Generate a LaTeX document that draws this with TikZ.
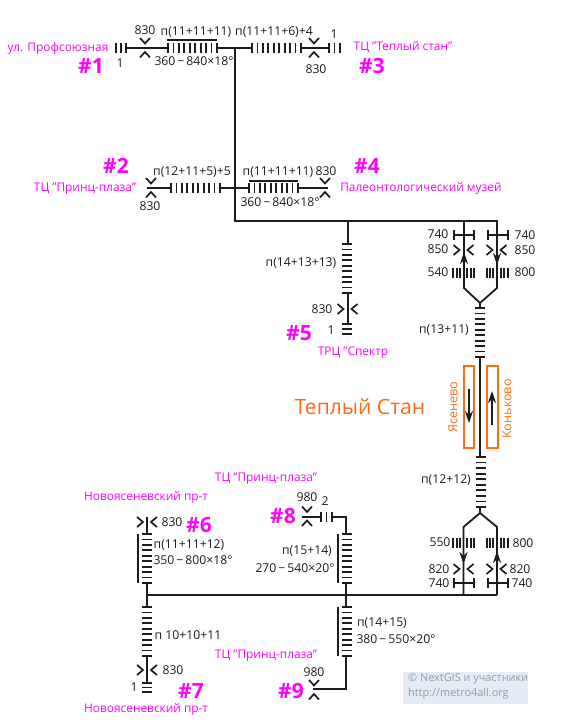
\documentclass[tikz,border=0pt]{standalone}
\usepackage{fontspec}
\setmainfont{Open Sans}
\usetikzlibrary{arrows.meta}
\definecolor{ink}{HTML}{1C1C1C}
\definecolor{mag}{HTML}{FF00FF}
\definecolor{orng}{HTML}{FF6A13}
\definecolor{cpbox}{HTML}{E3ECF7}
\definecolor{cptext}{HTML}{9A9A9A}
\tikzset{
  wire/.style={draw=ink,line width=1.8pt},
  tick/.style={draw=ink,line width=1.7pt},
  chev/.style={draw=ink,line width=1.7pt,miter limit=4},
  lab/.style={text=ink,font=\fontsize{12.2}{14}\selectfont,inner sep=0pt},
  pink/.style={text=mag,font=\fontsize{11.9}{13}\selectfont,inner sep=0pt},
  num/.style={text=mag,font=\fontsize{21}{24}\selectfont\bfseries,inner sep=0pt},
  orlab/.style={text=orng,font=\fontsize{12.6}{14}\selectfont,inner sep=0pt},
  orbox/.style={draw=orng,line width=1.8pt},
  uparr/.style={wire,-{Stealth[length=12pt,width=8pt]}},
}
\newcommand{\hst}[4]{\foreach \i in {0,...,#4}{\draw[tick] ({#1+\i*(#2-#1)/#4},#3-5) -- ++(0,10);}}
\newcommand{\vst}[4]{\foreach \i in {0,...,#4}{\draw[tick] (#3-5,{#1+\i*(#2-#1)/#4}) -- ++(10,0);}}
\newcommand{\chvv}[2]{\draw[chev] (#1-5,#2-10) -- (#1,#2-4.5) -- (#1+5,#2-10);\draw[chev] (#1-5,#2+9.5) -- (#1,#2+4) -- (#1+5,#2+9.5);}
\newcommand{\chhh}[2]{\draw[chev] (#1-10.5,#2-5) -- (#1-4.5,#2) -- (#1-10.5,#2+5);\draw[chev] (#1+9.5,#2-5) -- (#1+3.5,#2) -- (#1+9.5,#2+5);}
\newcommand{\capbar}[3]{\draw[tick] (#1,#3) -- (#2,#3);\draw[tick] (#1,#3-5) -- (#1,#3+5);\draw[tick] (#2,#3-5) -- (#2,#3+5);}
\newcommand{\dsh}{\kern2pt−\kern2pt}
\begin{document}
\begin{tikzpicture}[x=1pt,y=-1pt]
\useasboundingbox (0,0) rectangle (562,724);
% named junctions
\coordinate (p1) at (127,48);
\coordinate (s1a) at (168,48);
\coordinate (s1b) at (217,48);
\coordinate (t0) at (235,48);
\coordinate (s3a) at (252,48);
\coordinate (s3b) at (301,48);
\coordinate (p3) at (328,48);
\coordinate (p2) at (147,188);
\coordinate (s2a) at (171,188);
\coordinate (s2b) at (220,188);
\coordinate (s4a) at (249,188);
\coordinate (s4b) at (298,188);
\coordinate (p4) at (328,188);
\coordinate (t1) at (235,221);
\coordinate (t2) at (348,221);
\coordinate (t3) at (464,221);
\coordinate (t4) at (497,221);
\coordinate (s5a) at (348,244);
\coordinate (s5b) at (348,293);
\coordinate (p5) at (348,323);
\coordinate (k1) at (464,288);
\coordinate (k2) at (497,288);
\coordinate (k3) at (480,303);
\coordinate (m1) at (480,308);
\coordinate (m2) at (480,357);
\coordinate (m3) at (480,457);
\coordinate (m4) at (480,507);
\coordinate (r0) at (480,513);
\coordinate (r1) at (463.5,527);
\coordinate (r2) at (497,527);
\coordinate (b1) at (463.5,595);
\coordinate (b2) at (497,595);
\coordinate (b0) at (147,595);
\coordinate (s6a) at (147,534);
\coordinate (s6b) at (147,583);
\coordinate (s7a) at (147,607);
\coordinate (s7b) at (147,656);
\coordinate (p6) at (147,517);
\coordinate (p7) at (147,682);
\coordinate (p8) at (302,517);
\coordinate (e8) at (321,517);
\coordinate (f8) at (332,517);
\coordinate (g8) at (346,517);
\coordinate (s8a) at (346,534);
\coordinate (s8b) at (346,583);
\coordinate (s9a) at (346,607);
\coordinate (s9b) at (346,656);
\coordinate (g9) at (346,689);
\coordinate (p9) at (313,689);
% connectors
\draw[wire] (p1) -- (s1a);
\draw[wire] (s1b) -- (s3a);
\draw[wire] (s3b) -- (p3);
\draw[wire] (t0) -- (t1) -- (t4) -- (k2) -- (k3) -- (k1) -- (t3);
\draw[wire] (p2) -- (s2a);
\draw[wire] (s2b) -- (s4a);
\draw[wire] (s4b) -- (p4);
\draw[wire] (t2) -- (s5a);
\draw[wire] (s5b) -- (p5);
\draw[wire] (k3) -- (m1);
\draw[wire] (m2) -- (m3);
\draw[wire] (m4) -- (r0);
\draw[wire] (r0) -- (r1) -- (b1);
\draw[wire] (r0) -- (r2) -- (b2);
\draw[wire] (b0) -- (b2);
\draw[wire] (p6) -- (s6a);
\draw[wire] (s6b) -- (s7a);
\draw[wire] (s7b) -- (p7);
\draw[wire] (p8) -- (e8);
\draw[wire] (f8) -- (g8) -- (s8a);
\draw[wire] (s8b) -- (s9a);
\draw[wire] (s9b) -- (g9) -- (p9);
% stairs
\hst{116}{126}{48}{2}
\hst{168}{217}{48}{9}
\draw[tick] (167,40) -- (217,40);
\hst{252}{301}{48}{9}
\hst{329}{340}{48}{2}
\hst{171}{220}{188}{9}
\hst{249}{298}{188}{9}
\draw[tick] (249,181) -- (298,181);
\vst{244}{293}{347}{9}
\vst{324}{334}{347}{2}
\vst{308}{357}{480}{9}
\vst{457}{507}{480.5}{9}
\vst{534}{583}{147}{9}
\draw[tick] (138,534) -- (138,583);
\vst{607}{656}{147}{9}
\vst{683}{692}{147}{2}
\hst{321}{332}{517}{2}
\vst{534}{583}{346.5}{9}
\draw[tick] (338,534) -- (338,583);
\vst{607}{656}{346.5}{9}
\draw[tick] (338,607) -- (338,656);
% side ticks near the junction
\foreach \xx in {453,457,460,467,471,474,487,490,493,501,504,508}{
  \draw[tick,line width=1.3pt] (\xx,267.5) -- ++(0,10);
  \draw[tick,line width=1.3pt] (\xx,538) -- ++(0,10);
}
% bars
\capbar{454}{474}{235}
\capbar{488}{508}{235}
\capbar{454}{474}{583}
\capbar{488}{508}{583}
% chevrons
\chvv{145}{48}
\chvv{314}{48}
\chvv{151}{188}
\chvv{325}{188}
\chvv{307}{516.5}
\chvv{314}{690}
\chhh{348}{309}
\chhh{147.5}{522}
\chhh{147.5}{670}
\chhh{464}{250}
\chhh{497}{250}
\chhh{464}{569}
\chhh{497}{569}
% arrows on the branches
\draw[uparr] (464,265) -- (464,252);
\draw[uparr] (497,252) -- (497,265);
\draw[uparr] (463.5,551) -- (463.5,564);
\draw[uparr] (497,564) -- (497,551);
% platforms
\draw[orbox] (464,366) rectangle (474,448);
\draw[orbox] (487,366) rectangle (498,448);
\draw[uparr,line width=1.3pt] (469,389) -- (469,423);
\draw[uparr,line width=1.3pt] (492,425) -- (492,391);
\node[orlab,font=\fontsize{21.1}{24}\selectfont] (tst) at (360,407) {Теплый Стан};
\node[orlab,rotate=90] (yas) at (453,407) {Ясенево};
\node[orlab,rotate=90] (kon) at (507,409) {Коньково};
% labels
\node[pink] (a1) at (58,48) {ул. Профсоюзная};
\node[num] (n1) at (91,66) {\#1};
\node[lab] (l1) at (145,30) {830};
\node[lab] (l2) at (120,63) {1};
\node[lab] (l3) at (196,32) {п(11+11+11)};
\node[lab] (l4) at (194,61) {360\dsh 840×18°};
\node[lab] (l5) at (274,32) {п(11+11+6)+4};
\node[lab] (l6) at (334,34) {1};
\node[lab] (l7) at (316,69) {830};
\node[pink] (a3) at (403,47) {ТЦ "Теплый стан"};
\node[num] (n3) at (372,66) {\#3};
\node[num] (n2) at (116,166) {\#2};
\node[pink] (a2) at (85,189) {ТЦ "Принц-плаза"};
\node[lab] (l8) at (192,172) {п(12+11+5)+5};
\node[lab] (l9) at (150,206) {830};
\node[lab] (l10) at (278,172) {п(11+11+11)};
\node[lab] (l11) at (280,202) {360\dsh 840×18°};
\node[lab] (l12) at (326,171) {830};
\node[num] (n4) at (367,166) {\#4};
\node[pink] (a4) at (421,188) {Палеонтологический музей};
\node[lab] (l13) at (301,263) {п(14+13+13)};
\node[lab] (l14) at (322,309) {830};
\node[lab] (l15) at (331,330) {1};
\node[num] (n5) at (299,333) {\#5};
\node[pink] (a5) at (353,353) {ТРЦ "Спектр};
\node[lab] (l16) at (438,234) {740};
\node[lab] (l17) at (438,249) {850};
\node[lab] (l18) at (438,272) {540};
\node[lab] (l19) at (525,235) {740};
\node[lab] (l20) at (525,250) {850};
\node[lab] (l21) at (525,272) {800};
\node[lab] (l22) at (444,330) {п(13+11)};
\node[lab] (l23) at (446,480) {п(12+12)};
\node[lab] (l24) at (440,542) {550};
\node[lab] (l25) at (523,543) {800};
\node[lab] (l26) at (439,569) {820};
\node[lab] (l27) at (520,569) {820};
\node[lab] (l28) at (439,583) {740};
\node[lab] (l29) at (522,583) {740};
\node[pink] (a8) at (266,479) {ТЦ "Принц-плаза"};
\node[pink] (a9) at (266,656) {ТЦ "Принц-плаза"};
\node[pink] (a6) at (146,497) {Новоясеневский пр-т};
\node[pink] (a7) at (146,709) {Новоясеневский пр-т};
\node[lab] (l30) at (172,522) {830};
\node[num] (n6) at (199,525) {\#6};
\node[lab] (l31) at (189,545) {п(11+11+12)};
\node[lab] (l32) at (193,560) {350\dsh 800×18°};
\node[lab] (l33) at (188,635) {п 10+10+11};
\node[lab] (l34) at (173,670) {830};
\node[lab] (l35) at (134,687) {1};
\node[num] (n7) at (191,691) {\#7};
\node[lab] (l36) at (307,497) {980};
\node[lab] (l37) at (325,501) {2};
\node[num] (n8) at (283,516) {\#8};
\node[lab] (l38) at (307,551) {п(15+14)};
\node[lab] (l39) at (295,568) {270\dsh 540×20°};
\node[lab] (l40) at (382,623) {п(14+15)};
\node[lab] (l41) at (396,639) {380\dsh 550×20°};
\node[lab] (l42) at (314,672) {980};
\node[num] (n9) at (291,691) {\#9};
% copyright
\fill[cpbox] (403,672) rectangle (528,704);
\node[text=cptext,font=\fontsize{10.9}{15}\selectfont,align=left,anchor=north west,inner sep=0pt] (cp) at (408,673.5) {© NextGIS и участники\\http://metro4all.org};
\end{tikzpicture}
\end{document}
